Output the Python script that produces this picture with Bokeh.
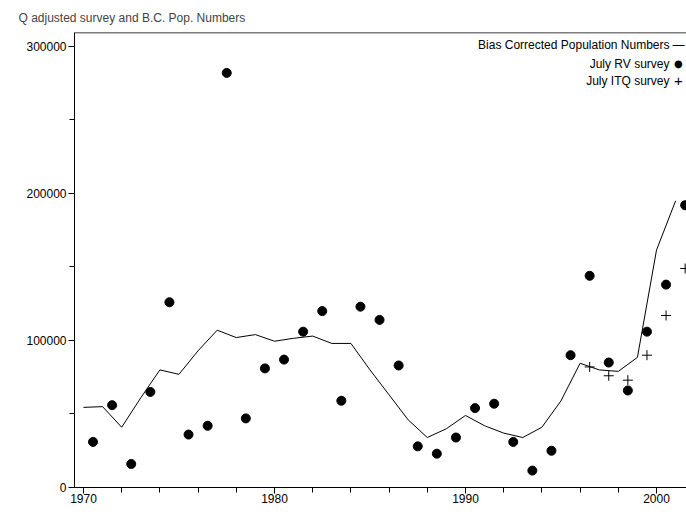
from bokeh.plotting import figure
from bokeh.models import Range1d, Span, Label, FixedTicker, BasicTickFormatter
from bokeh.embed import file_html
from bokeh.resources import INLINE

line_years = list(range(1970, 2002))
bias_corrected = [54500, 55000, 41000, 61000, 80000, 77000, 93000, 107000, 102000, 104000,
                  99500, 101500, 103000, 98000, 98000, 80000, 63000, 46000, 34000, 40000,
                  49000, 42000, 37000, 34000, 41000, 59000, 84500, 80000, 79000, 88500,
                  161500, 195000]
rv_years = [y + 0.5 for y in range(1970, 2002)]
rv_survey = [31000, 56000, 16000, 65000, 126000, 36000, 42000, 282000, 47000, 81000,
             87000, 106000, 120000, 59000, 123000, 114000, 83000, 28000, 23000, 34000,
             54000, 57000, 31000, 11500, 25000, 90000, 144000, 85000, 66000, 106000,
             138000, 192000]
itq_years = [1996.5, 1997.5, 1998.5, 1999.5, 2000.5, 2001.5]
itq_survey = [82000, 76000, 73000, 90000, 117000, 149000]
legend_labels = ["Bias Corrected Population Numbers", "July RV survey", "July ITQ survey"]
legend_symbols = ["\u2014", "\u25CF", "+"]

FONT = "Liberation Sans"
p = figure(width=686, height=514, output_backend="svg", toolbar_location=None,
           x_range=Range1d(1969.53, 2001.57), y_range=Range1d(0, 309500),
           min_border_left=74, min_border_right=0, min_border_bottom=27, min_border_top=10)
p.title.text = "Q adjusted survey and  B.C. Pop. Numbers"
p.title.text_font = FONT
p.title.text_font_size = "12px"
p.title.text_font_style = "normal"
p.title.offset = -56
p.title.standoff = 16
p.outline_line_color = None
p.grid.visible = False
p.background_fill_color = "white"

p.line(line_years, bias_corrected, line_color="black", line_width=1)
p.scatter(rv_years, rv_survey, size=9, color="black")
p.scatter(itq_years, itq_survey, marker="cross", size=10, line_color="black", line_width=1)

p.add_layout(Span(location=309500, dimension="width", line_color="black", line_width=1.5))

for ax in (p.xaxis[0], p.yaxis[0]):
    ax.axis_line_color = "black"
    ax.major_tick_line_color = "black"
    ax.minor_tick_line_color = "black"
    ax.major_tick_in = 0
    ax.minor_tick_in = 0
    ax.major_tick_out = 6
    ax.minor_tick_out = 5
    ax.major_label_text_font = FONT
    ax.major_label_text_font_size = "12px"
    ax.major_label_text_color = "black"
p.xaxis.ticker = FixedTicker(ticks=[1970, 1980, 1990, 2000],
                             minor_ticks=[1970 + 2 * i for i in range(17)])
p.yaxis.ticker = FixedTicker(ticks=[0, 100000, 200000, 300000],
                             minor_ticks=[50000 * i for i in range(7)])
p.yaxis.formatter = BasicTickFormatter(use_scientific=False)
p.yaxis.major_label_standoff = 2
p.xaxis.major_label_standoff = 0

ys = [301300, 288300, 276700]
sizes = {"\u2014": "12px", "\u25CF": "10px", "+": "15px"}
for lab, sym, yy in zip(legend_labels, legend_symbols, ys):
    p.add_layout(Label(x=2000.68, y=yy, text=lab, text_align="right", text_baseline="middle",
                       text_font=FONT, text_font_size="12px", text_color="black"))
    p.add_layout(Label(x=2001.15, y=yy, text=sym, text_align="center", text_baseline="middle",
                       text_font="DejaVu Sans" if sym == "\u25CF" else FONT,
                       text_font_size=sizes[sym], text_color="black"))

open("out.html", "w").write(file_html(p, INLINE))
